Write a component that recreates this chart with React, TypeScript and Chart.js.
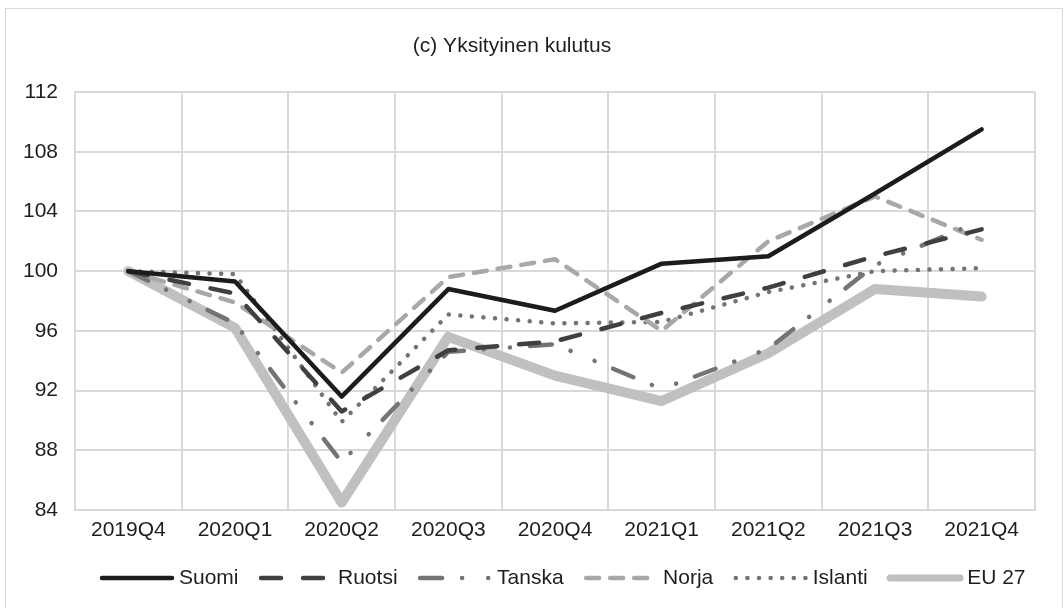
import React, { useEffect, useRef } from 'react';
import { Chart, registerables } from 'chart.js';

Chart.register(...registerables);

const FONT = '"Liberation Sans", Arial, Helvetica, sans-serif';
const FONT_SIZE = 21;
const TEXT_COLOR = '#1e1e1e';
const GRID_COLOR = '#d9d9d9';

const chartTitle = '(c) Yksityinen kulutus';
const categories = ['2019Q4', '2020Q1', '2020Q2', '2020Q3', '2020Q4', '2021Q1', '2021Q2', '2021Q3', '2021Q4'];
const seriesNames = ['Suomi', 'Ruotsi', 'Tanska', 'Norja', 'Islanti', 'EU 27'];

const suomi = [100, 99.3, 91.6, 98.8, 97.35, 100.5, 101.0, 105.2, 109.5];
const ruotsi = [100, 98.5, 90.6, 94.7, 95.3, 97.2, 98.9, 101.0, 102.8];
const tanska = [100, 96.5, 87.2, 94.6, 95.1, 92.1, 94.8, 100.4, 103.4];
const norja = [100, 97.9, 93.2, 99.6, 100.8, 96.0, 102.0, 105.0, 102.1];
const islanti = [100, 99.8, 89.9, 97.1, 96.5, 96.6, 98.6, 100.0, 100.2];
const eu27 = [100, 96.2, 84.5, 95.6, 93.0, 91.3, 94.5, 98.8, 98.3];

const yMin = 84;
const yMax = 112;
const yStep = 4;

const titleLegendPlugin = {
  id: 'titleLegend',
  afterDraw(chart: any) {
    const ctx = chart.ctx as CanvasRenderingContext2D;
    ctx.save();
    ctx.font = `${FONT_SIZE}px ${FONT}`;
    ctx.fillStyle = TEXT_COLOR;
    ctx.textAlign = 'center';
    ctx.textBaseline = 'middle';
    ctx.fillText(chartTitle, 512, 46);

    let x = 102;
    const y = 578;
    ctx.textAlign = 'left';
    chart.data.datasets.forEach((ds: any) => {
      ctx.save();
      ctx.strokeStyle = ds.borderColor;
      ctx.lineWidth = Math.min(ds.borderWidth, 7);
      ctx.setLineDash(ds.borderDash || []);
      ctx.lineCap = ds.borderCapStyle || 'butt';
      ctx.beginPath();
      ctx.moveTo(x, y);
      ctx.lineTo(x + 70, y);
      ctx.stroke();
      ctx.restore();
      const tx = x + 77;
      ctx.fillText(ds.label, tx, y);
      x = tx + ctx.measureText(ds.label).width + 22.5;
    });
    ctx.restore();
  },
};

export default function App() {
  const canvasRef = useRef<HTMLCanvasElement | null>(null);

  useEffect(() => {
    if (!canvasRef.current) return;
    const values = [suomi, ruotsi, tanska, norja, islanti, eu27];
    const colors = ['#1c1c1c', '#404040', '#747474', '#a8a8a8', '#747474', '#c0c0c0'];
    const widths = [4.5, 4.5, 4.5, 4.5, 4.5, 10];
    const dashes = [[], [20, 22], [22, 20, 0.1, 26, 0.1, 20], [13, 11], [0.1, 11.5], []];
    const caps = ['round', 'round', 'round', 'round', 'round', 'round'];

    const chart = new Chart(canvasRef.current, {
      type: 'line',
      data: {
        labels: categories,
        datasets: seriesNames.map((name, i) => ({
          label: name,
          data: values[i],
          borderColor: colors[i],
          backgroundColor: colors[i],
          borderWidth: widths[i],
          borderDash: dashes[i],
          borderCapStyle: caps[i] as CanvasLineCap,
          borderJoinStyle: 'round' as CanvasLineJoin,
          pointRadius: 0,
          pointHoverRadius: 0,
          tension: 0,
          fill: false,
        })),
      },
      options: {
        responsive: false,
        animation: false,
        events: [],
        layout: { padding: { top: 92, right: 29, bottom: 50, left: 0 } },
        plugins: {
          legend: { display: false },
          title: { display: false },
          tooltip: { enabled: false },
        },
        scales: {
          x: {
            type: 'category',
            offset: true,
            grid: { offset: true, color: GRID_COLOR, lineWidth: 2, drawTicks: false },
            border: { color: GRID_COLOR, width: 2 },
            ticks: {
              font: { size: FONT_SIZE, family: FONT },
              color: TEXT_COLOR,
              padding: 8,
              maxRotation: 0,
              autoSkip: false,
            },
            afterFit: (scale: any) => {
              scale.height = 48;
            },
          },
          y: {
            min: yMin,
            max: yMax,
            grid: { color: GRID_COLOR, lineWidth: 2, drawTicks: false },
            border: { color: GRID_COLOR, width: 2 },
            ticks: {
              stepSize: yStep,
              font: { size: FONT_SIZE, family: FONT },
              color: TEXT_COLOR,
              padding: 17,
            },
            afterFit: (scale: any) => {
              scale.width = 75;
            },
          },
        },
      },
      plugins: [titleLegendPlugin],
    });
    return () => chart.destroy();
  }, []);

  return (
    <div
      style={{
        position: 'absolute',
        left: 0,
        top: 0,
        width: 1064,
        height: 608,
        overflow: 'hidden',
        background: '#ffffff',
      }}
    >
      <div
        style={{
          position: 'absolute',
          left: 5,
          top: 8,
          width: 1056,
          height: 640,
          border: `1px solid ${GRID_COLOR}`,
          boxSizing: 'content-box',
        }}
      />
      <canvas
        ref={canvasRef}
        width={1064}
        height={608}
        style={{ position: 'absolute', left: 0, top: 0, display: 'block' }}
      />
    </div>
  );
}
